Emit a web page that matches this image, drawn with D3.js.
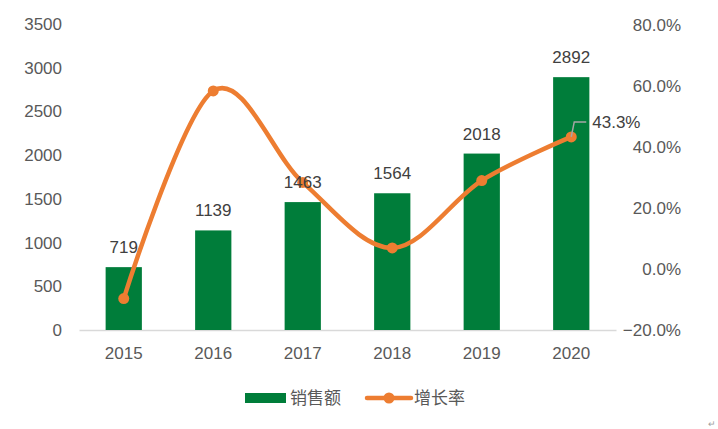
<!DOCTYPE html>
<html>
<head>
<meta charset="utf-8">
<script src="https://cdn.jsdelivr.net/npm/d3@7"></script>
<style>
  body { margin: 0; background: #fff; }
  text { font-family: "Liberation Sans", Arial, sans-serif; }
</style>
</head>
<body>
<div id="chart"></div>
<script>
// chart data
const years = ["2015", "2016", "2017", "2018", "2019", "2020"];
const sales = [719, 1139, 1463, 1564, 2018, 2892];
const growth = [-0.097, 0.584, 0.284, 0.069, 0.290, 0.433];
const leftTicks = [0, 500, 1000, 1500, 2000, 2500, 3000, 3500];
const rightTicks = [-0.2, 0, 0.2, 0.4, 0.6, 0.8];

const W = 718, H = 429;
const plot = { left: 79, right: 616, top: 24, bottom: 330 };

const svg = d3.select("#chart").append("svg")
    .attr("width", W)
    .attr("height", H);

// scales
const x = d3.scaleBand()
    .domain(years)
    .range([plot.left, plot.right])
    .paddingInner(0.595)
    .paddingOuter(0.2975);

const y = d3.scaleLinear()
    .domain([0, 3500])
    .range([plot.bottom, plot.top]);

const y2 = d3.scaleLinear()
    .domain([-0.2, 0.8])
    .range([plot.bottom, plot.top + 1]);

const cx = d => x(d) + x.bandwidth() / 2;

// left axis labels
svg.append("g")
    .selectAll("text")
    .data(leftTicks)
    .join("text")
    .attr("x", 62)
    .attr("y", d => y(d))
    .attr("dy", "0.35em")
    .attr("text-anchor", "end")
    .attr("fill", "#595959")
    .style("font-size", "17px")
    .text(d => d);

// right axis labels
svg.append("g")
    .selectAll("text")
    .data(rightTicks)
    .join("text")
    .attr("x", 681)
    .attr("y", d => y2(d))
    .attr("dy", "0.35em")
    .attr("text-anchor", "end")
    .attr("fill", "#595959")
    .style("font-size", "17px")
    .text(d => d3.format(".1%")(d));

// x axis
const xAxis = d3.axisBottom(x).tickSize(0).tickPadding(17);
const gx = svg.append("g")
    .attr("transform", "translate(0," + plot.bottom + ")")
    .call(xAxis);
gx.select(".domain").attr("stroke", "#d9d9d9").attr("stroke-width", 1.5);
gx.selectAll("text")
    .attr("fill", "#595959")
    .style("font-size", "17px")
    .style("font-family", "Liberation Sans, Arial, sans-serif");

// bars
svg.append("g")
    .selectAll("rect")
    .data(years)
    .join("rect")
    .attr("x", d => x(d))
    .attr("width", x.bandwidth())
    .attr("y", (d, i) => y(sales[i]))
    .attr("height", (d, i) => plot.bottom - y(sales[i]))
    .attr("fill", "#007D3A");

// growth line
const line = d3.line()
    .x((d, i) => cx(years[i]))
    .y(d => y2(d))
    .curve(d3.curveCardinal.tension(0));

svg.append("path")
    .datum(growth)
    .attr("d", line)
    .attr("fill", "none")
    .attr("stroke", "#ED7D31")
    .attr("stroke-width", 4.5)
    .attr("stroke-linecap", "round");

svg.append("g")
    .selectAll("circle")
    .data(growth)
    .join("circle")
    .attr("cx", (d, i) => cx(years[i]))
    .attr("cy", d => y2(d))
    .attr("r", 5.5)
    .attr("fill", "#ED7D31");

// sales labels
svg.append("g")
    .selectAll("text")
    .data(years)
    .join("text")
    .attr("x", d => cx(d))
    .attr("y", (d, i) => y(sales[i]) - 20)
    .attr("dy", "0.35em")
    .attr("text-anchor", "middle")
    .attr("fill", "#404040")
    .style("font-size", "17px")
    .text((d, i) => sales[i]);

// only last growth value is labelled, with a leader line
const last = years.length - 1;
const lx = cx(years[last]), ly = y2(growth[last]);
svg.append("path")
    .attr("d", "M" + lx + "," + ly + "L" + (lx + 3) + "," + (ly - 15) + "L" + (lx + 15) + "," + (ly - 15))
    .attr("fill", "none")
    .attr("stroke", "#A6A6A6")
    .attr("stroke-width", 1.5);
svg.append("text")
    .attr("x", lx + 21)
    .attr("y", ly - 15)
    .attr("dy", "0.35em")
    .attr("fill", "#404040")
    .style("font-size", "17px")
    .text(d3.format(".1%")(growth[last]));

// legend
const leg = svg.append("g");
leg.append("rect")
    .attr("x", 245).attr("y", 393)
    .attr("width", 41).attr("height", 10)
    .attr("fill", "#007D3A");
leg.append("text")
    .attr("x", 290).attr("y", 398)
    .attr("dy", "0.35em")
    .attr("fill", "#595959")
    .style("font-size", "17px")
    .style("font-family", "Noto Sans CJK SC, sans-serif")
    .text("销售额");
leg.append("line")
    .attr("x1", 367).attr("x2", 411)
    .attr("y1", 398).attr("y2", 398)
    .attr("stroke", "#ED7D31")
    .attr("stroke-width", 4.5)
    .attr("stroke-linecap", "round");
leg.append("circle")
    .attr("cx", 389).attr("cy", 398)
    .attr("r", 5.5)
    .attr("fill", "#ED7D31");
leg.append("text")
    .attr("x", 414).attr("y", 398)
    .attr("dy", "0.35em")
    .attr("fill", "#595959")
    .style("font-size", "17px")
    .style("font-family", "Noto Sans CJK SC, sans-serif")
    .text("增长率");

// paragraph mark in corner
svg.append("text")
    .attr("x", 708).attr("y", 427)
    .attr("fill", "#a0a0a0")
    .style("font-size", "9px")
    .text("↵");
</script>
</body>
</html>
